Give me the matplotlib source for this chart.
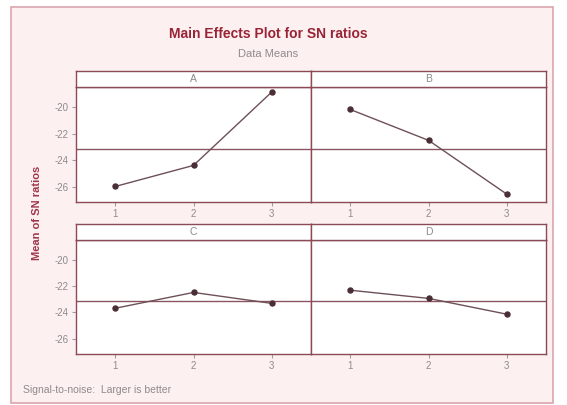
import matplotlib
matplotlib.use("Agg")
import matplotlib.pyplot as plt
from matplotlib.patches import Rectangle

# ---- data ----
factors = ["A", "B", "C", "D"]
levels = [1, 2, 3]
level_labels = ["1", "2", "3"]
A_means = [-25.98, -24.39, -18.85]
B_means = [-20.17, -22.50, -26.56]
C_means = [-23.68, -22.48, -23.31]
D_means = [-22.31, -22.93, -24.13]
grand_mean = -23.15
y_ticks = [-20, -22, -24, -26]
y_tick_labels = ["-20", "-22", "-24", "-26"]

title = "Main Effects Plot for SN ratios"
subtitle = "Data Means"
ylabel = "Mean of SN ratios"
footer = "Signal-to-noise:  Larger is better"

series = [A_means, B_means, C_means, D_means]

plt.rcParams["font.family"] = ["Liberation Sans", "DejaVu Sans"]

W, H = 567, 405
fig = plt.figure(figsize=(W / 100, H / 100), dpi=100)
fig.patch.set_facecolor("white")

def fx(px):
    return px / W

def fy(py):
    return 1 - py / H

# outer frame
frame = Rectangle((fx(11), fy(403)), fx(553) - fx(11), fy(7) - fy(403),
                  transform=fig.transFigure, facecolor="#fcf0f0",
                  edgecolor="#d8a6ad", linewidth=1.2, zorder=-5)
fig.patches.append(frame)

border_col = "#8c4a56"
line_col = "#6e5057"
mark_col = "#4a2e35"
tick_col = "#8f8a8b"
title_col = "#9a2437"

# panel geometry (pixels)
cols = [(76, 311), (311, 546)]
rows = [((70.7, 87.3), (87.3, 202)), ((224, 240), (240, 354))]

for idx, (name, vals) in enumerate(zip(factors, series)):
    r, c = divmod(idx, 2)
    x0, x1 = cols[c]
    (s0, s1), (p0, p1) = rows[r]
    ax = fig.add_axes([fx(x0), fy(p1), fx(x1) - fx(x0), fy(p0) - fy(p1)])
    ax.set_zorder(1)
    ax.set_facecolor("white")
    ax.axhline(grand_mean, color="#8a5561", linewidth=1.0, zorder=1)
    ax.plot(levels, vals, color=line_col, linewidth=1.0, zorder=2)
    ax.plot(levels, vals, "o", color=mark_col, markersize=3.6, zorder=3)
    ax.set_xlim(0.5, 3.5)
    ax.set_ylim(-27.15, -18.5)
    ax.set_xticks(levels)
    ax.set_xticklabels(level_labels)
    ax.set_yticks(y_ticks)
    if c == 0:
        ax.set_yticklabels(y_tick_labels)
    else:
        ax.tick_params(axis="y", left=False, labelleft=False)
    ax.tick_params(axis="both", colors="#a89a9d", labelcolor=tick_col,
                   labelsize=7, length=3, width=0.8, pad=2)
    for sp in ax.spines.values():
        sp.set_color(border_col)
        sp.set_linewidth(1.0)
    # strip
    sx = fig.add_axes([fx(x0), fy(s1), fx(x1) - fx(x0), fy(s0) - fy(s1)])
    sx.set_zorder(1)
    sx.set_facecolor("white")
    sx.set_xticks([])
    sx.set_yticks([])
    for sp in sx.spines.values():
        sp.set_color(border_col)
        sp.set_linewidth(1.0)
    sx.text(0.5, 0.5, name, ha="center", va="center", fontsize=7.5,
            color=tick_col, transform=sx.transAxes)

fig.text(fx(268), fy(34), title, ha="center", va="center", fontsize=10,
         fontweight="bold", color=title_col)
fig.text(fx(268), fy(54), subtitle, ha="center", va="center", fontsize=8,
         color=tick_col)
fig.text(fx(37), fy(213), ylabel, ha="center", va="center", rotation=90,
         fontsize=8, fontweight="bold", color="#a0354a")
fig.text(fx(23), fy(390), footer, ha="left", va="center", fontsize=7.5,
         color=tick_col)

fig.savefig("out.png", dpi=100, facecolor=fig.get_facecolor())
